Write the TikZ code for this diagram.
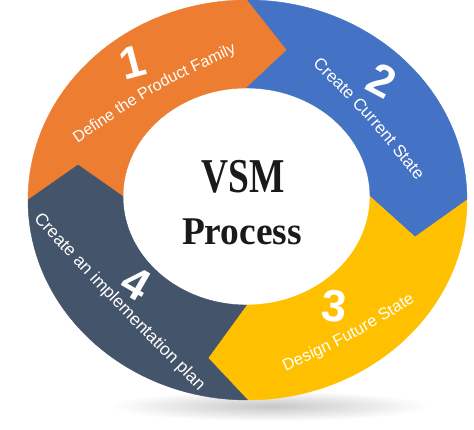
\documentclass[tikz,border=0pt]{standalone}
\usepackage{fontspec}
\usetikzlibrary{decorations.text}
\newfontfamily\lsans{Liberation Sans}
\newfontfamily\lserif{Liberation Serif}
\definecolor{segorange}{HTML}{ED7D31}
\definecolor{segblue}{HTML}{4472C4}
\definecolor{segyellow}{HTML}{FFC000}
\definecolor{segdark}{HTML}{44546A}
\definecolor{centertext}{HTML}{1A1A1A}
\newcommand\lblA{\lsans\fontsize{16}{16}\selectfont\color{white}}
\newcommand\lblB{\lsans\fontsize{17}{17}\selectfont\color{white}}
\newcommand\lblC{\lsans\fontsize{16.5}{16.5}\selectfont\color{white}}
\newcommand\lblD{\lsans\fontsize{17.5}{17.5}\selectfont\color{white}}
\begin{document}
\begin{tikzpicture}[x=1pt,y=1pt,
  seg/.style={fill=#1, draw=#1, line width=0.4pt, line join=miter},
  num/.style={font=\lsans\bfseries\fontsize{45}{45}\selectfont, text=white, inner sep=0pt},
  ctext/.style={font=\lserif\bfseries\fontsize{37.4}{40}\selectfont, text=centertext, anchor=base, inner sep=0pt}]
\useasboundingbox (0,0) rectangle (474,430);
\fill[white] (0,0) rectangle (474,430);
% soft shadow
\shade[inner color=black!22, outer color=white] (270,24) ellipse[x radius=160, y radius=15];
% key points
\coordinate (O0) at (467,230);
\coordinate (O90) at (247.5,430);
\coordinate (O180) at (28,230);
\coordinate (O270) at (247.5,30);
\coordinate (I0) at (370,233.5);
\coordinate (I90) at (246.5,342);
\coordinate (I180) at (123,233.5);
\coordinate (I270) at (246.5,125);
\coordinate (T1) at (287,380);
\coordinate (T2) at (415,193);
\coordinate (T3) at (208,72);
\coordinate (T4) at (78,265);
% segments
\fill[seg=segorange] (O180) arc[start angle=180, end angle=90, x radius=219.5, y radius=200] -- (T1) -- (I90) arc[start angle=90, end angle=180, x radius=123.5, y radius=108.5] -- (T4) -- cycle;
\fill[seg=segblue] (O90) arc[start angle=90, end angle=0, x radius=219.5, y radius=200] -- (T2) -- (I0) arc[start angle=0, end angle=90, x radius=123.5, y radius=108.5] -- (T1) -- cycle;
\fill[seg=segyellow] (O0) arc[start angle=0, end angle=-90, x radius=219.5, y radius=200] -- (T3) -- (I270) arc[start angle=-90, end angle=0, x radius=123.5, y radius=108.5] -- (T2) -- cycle;
\fill[seg=segdark] (O270) arc[start angle=-90, end angle=-180, x radius=219.5, y radius=200] -- (T4) -- (I180) arc[start angle=180, end angle=270, x radius=123.5, y radius=108.5] -- (T3) -- cycle;
% label paths
\coordinate (a0) at (59,278.6);  \coordinate (ac) at (151,342.7); \coordinate (a1) at (253,389.4);
\coordinate (b0) at (300,383.2); \coordinate (bc) at (371,313);   \coordinate (b1) at (433,234.8);
\coordinate (c0) at (269.8,55.9);\coordinate (cc) at (351,93);    \coordinate (c1) at (426.2,140.1);
\coordinate (d0) at (24.6,225.8);\coordinate (dc) at (117.6,126); \coordinate (d1) at (213.4,29.2);
\path[decorate, decoration={text along path, text align=center, raise=-4pt, text={|\lblA|Define the Product Family}}] (a0) .. controls (ac) .. (a1);
\path[decorate, decoration={text along path, text align=center, raise=-4pt, text={|\lblB|Create Current State}}] (b0) .. controls (bc) .. (b1);
\path[decorate, decoration={text along path, text align=center, raise=-4pt, text={|\lblC|Design Future State}}] (c0) .. controls (cc) .. (c1);
\path[decorate, decoration={text along path, text align=center, raise=-4pt, text={|\lblD|Create an implementation plan}}] (d0) .. controls (dc) .. (d1);
% numbers
\node[num, rotate=15] (n1) at (133,368) {1};
\node[num, rotate=-28] (n2) at (382,349) {2};
\node[num, rotate=-5] (n3) at (334,124) {3};
\node[num, rotate=-30] (n4) at (136,147) {4};
% center text
\node[ctext, yscale=1.3] (vsm) at (243.5,237.3) {VSM};
\node[ctext, yscale=1.05] (proc) at (242,185) {Process};
\end{tikzpicture}
\end{document}
